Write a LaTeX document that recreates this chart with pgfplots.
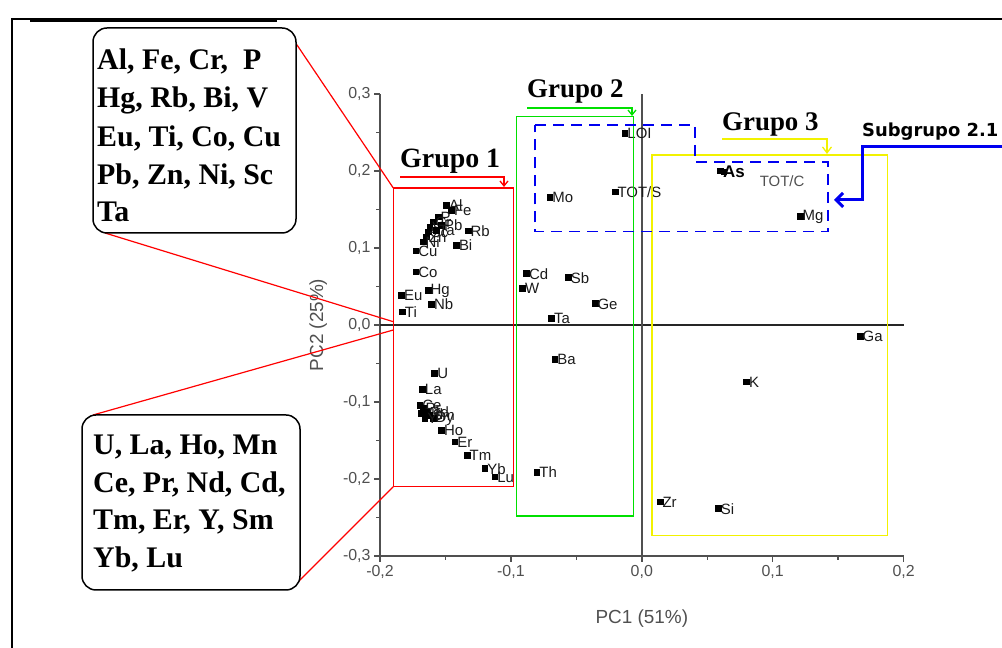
\documentclass[border=0pt]{standalone}
\usepackage{pgfplots}
\usepackage{pgfplotstable}
\pgfplotsset{compat=1.18}
\usepackage{fontspec}
\setmainfont{Liberation Sans}
\newfontfamily\tnr{Liberation Serif}
\newfontfamily\dvs{DejaVu Sans}
\usetikzlibrary{arrows.meta}
\definecolor{axgray}{HTML}{505050}
\definecolor{lblc}{HTML}{1A1A1A}
\definecolor{grnc}{HTML}{00E000}
\definecolor{ylwc}{HTML}{F2F200}
\definecolor{bluc}{HTML}{0000F0}
\definecolor{redc}{HTML}{FF0000}

\pgfplotstableread{
x y lab
-0.1493 0.1558 Al
-0.1455 0.1494 Fe
-0.1557 0.1407 P
-0.1596 0.1342 Cr
-0.1621 0.1277 V
-0.1634 0.1212 Sc
-0.1646 0.1147 Zn
-0.1672 0.1082 Ni
-0.1531 0.1299 Pb
-0.1570 0.1234 Ta
-0.1328 0.1225 Rb
-0.1417 0.1039 Bi
-0.1728 0.0965 Cu
-0.1728 0.0692 Co
-0.1837 0.0390 Eu
-0.1634 0.0455 Hg
-0.1608 0.0273 Nb
-0.1830 0.0173 Ti
-0.1583 -0.0627 U
-0.1677 -0.0835 La
-0.1697 -0.1039 Ce
-0.1672 -0.1082 Pr
-0.1684 -0.1147 Nd
-0.1646 -0.1126 Gd
-0.1621 -0.1169 Sm
-0.1596 -0.1212 Dy
-0.1659 -0.1212 Y
-0.1531 -0.1364 Ho
-0.1430 -0.1516 Er
-0.1336 -0.1688 Tm
-0.1200 -0.1861 Yb
-0.1124 -0.1970 Lu
-0.0882 0.0671 Cd
-0.0912 0.0476 W
-0.0563 0.0619 Sb
-0.0359 0.0281 Ge
-0.0690 0.0087 Ta
-0.0665 -0.0446 Ba
-0.0803 -0.1909 Th
-0.0703 0.1658 Mo
-0.0206 0.1732 TOT/S
-0.0130 0.2489 LOI
0.1208 0.1416 Mg
0.1667 -0.0143 Ga
0.0800 -0.0736 K
0.0138 -0.2295 Zr
0.0583 -0.2381 Si
}\pts

\begin{document}
\begin{tikzpicture}
\useasboundingbox (0bp,0bp) rectangle (1002bp,648bp);
\begin{axis}[
  at={(380bp,92bp)}, anchor=south west,
  scale only axis, width=523.6bp, height=462bp,
  xmin=-0.2, xmax=0.2, ymin=-0.3, ymax=0.3,
  axis x line*=bottom, axis y line*=left,
  clip=false,
  xtick={-0.2,-0.1,0,0.1,0.2},
  ytick={-0.3,-0.2,-0.1,0,0.1,0.2,0.3},
  minor x tick num=1, minor y tick num=1,
  tick align=outside,
  major tick length=6bp, minor tick length=4bp,
  tick style={axgray, line width=1.4bp},
  axis line style={axgray, line width=2bp},
  ticklabel style={font=\fontsize{16}{16}\selectfont, text=axgray},
  /pgf/number format/.cd, use comma, fixed, fixed zerofill, precision=1, assume math mode=true,
  /pgfplots/.cd,
  xlabel={PC1 (51\%)}, ylabel={PC2 (25\%)},
  xlabel style={font=\fontsize{19}{19}\selectfont, text=axgray, at={(axis description cs:0.5,-0.136)}, anchor=center},
  ylabel style={font=\fontsize{19}{19}\selectfont, text=axgray, at={(axis description cs:-0.118,0.5)}, anchor=center},
]
\draw[black!85, line width=1.8bp] (axis cs:-0.2,0) -- (axis cs:0.2,0);
\draw[axgray, line width=1.8bp] (axis cs:0,-0.3) -- (axis cs:0,0.3);
\addplot[only marks, mark=square*, mark size=2.9bp, black,
  nodes near coords, point meta=explicit symbolic,
  every node near coord/.append style={anchor=west, xshift=2.5bp, yshift=-0.5bp, inner sep=0pt, font=\fontsize{15}{15}\selectfont, text=lblc}]
  table[x=x, y=y, meta=lab] {\pts};
\addplot[only marks, mark=square*, mark size=2.9bp, black,
  nodes near coords={As},
  every node near coord/.append style={anchor=west, xshift=3bp, yshift=-1bp, inner sep=0pt, font=\bfseries\fontsize{17}{17}\selectfont, text=black}]
  coordinates {(0.0596,0.2004)};
\addplot[only marks, mark=square*, mark size=2.9bp, black,
  nodes near coords={TOT/C},
  every node near coord/.append style={anchor=west, xshift=36bp, yshift=-9bp, inner sep=0pt, font=\fontsize{15}{15}\selectfont, text=axgray}]
  coordinates {(0.0625,0.1990)};
\end{axis}
\begin{scope}[x=1bp, y=-1bp, shift={(0bp,648bp)}]
  % outer frame
  \draw[black, line width=2.5bp] (12,648) -- (12,19) -- (1002,19);
  \draw[black, line width=4bp] (30,20) -- (277,20);
  % group rectangles
  \draw[redc, line width=1.5bp] (393.3,188) rectangle (513.3,486.7);
  \draw[grnc, line width=1.5bp] (516.7,116.7) rectangle (633.3,516);
  \draw[ylwc, line width=1.8bp] (651.7,155) rectangle (887.5,535.5);
  \draw[bluc, line width=1.6bp, dash pattern=on 11bp off 7bp] (535,125) -- (695,125) -- (695,162) -- (828,162) -- (828,231.7) -- (535,231.7) -- cycle;
  % group labels
  \node[anchor=base west, inner sep=0, font=\tnr\bfseries\fontsize{28}{28}\selectfont] at (400,168) {Grupo 1};
  \draw[redc, line width=1.3bp, -{Straight Barb[length=5bp,width=8bp]}] (400,177) -- (504,177) -- (504,187);
  \node[anchor=base west, inner sep=0, font=\tnr\bfseries\fontsize{27}{27}\selectfont] at (527,98) {Grupo 2};
  \draw[grnc, line width=1.3bp, -{Straight Barb[length=5bp,width=8bp]}] (527,108) -- (632,108) -- (632,116);
  \node[anchor=base west, inner sep=0, font=\tnr\bfseries\fontsize{27}{27}\selectfont] at (722,131) {Grupo 3};
  \draw[ylwc, line width=1.3bp, -{Straight Barb[length=6bp,width=9bp]}] (722,139) -- (827,139) -- (827,154);
  % subgroup
  \node[anchor=base west, inner sep=0, font=\dvs\bfseries\fontsize{18}{18}\selectfont] at (862,137) {Subgrupo 2.1};
  \draw[bluc, line width=3bp, -{Straight Barb[length=7bp,width=14bp]}] (1005,147) -- (862,147) -- (862,200) -- (834,200);
  % callout boxes
  \draw[redc, line width=1.2bp] (295,42) -- (393.3,188);
  \draw[redc, line width=1.2bp] (105,233) -- (393.3,321.7);
  \draw[redc, line width=1.2bp] (93,415) -- (393.3,330);
  \draw[redc, line width=1.2bp] (298,582) -- (393.3,486.7);
  \draw[black, line width=1.5bp, rounded corners=14bp, fill=white] (93,28) rectangle (296,233);
  \draw[black, line width=1.5bp, rounded corners=14bp, fill=white] (82,415) rectangle (300,590);
  \begin{scope}[every node/.style={anchor=base west, inner sep=0, font=\tnr\bfseries\fontsize{30}{30}\selectfont}]
    \node at (97,70) {Al, Fe, Cr,\ \ P};
    \node at (97,108) {Hg, Rb, Bi, V};
    \node at (97,147) {Eu, Ti, Co, Cu};
    \node at (97,185) {Pb, Zn, Ni, Sc};
    \node at (97,222) {Ta};
    \node at (93,455) {U, La, Ho, Mn};
    \node at (93,493) {Ce, Pr, Nd, Cd,};
    \node at (93,530) {Tm, Er, Y, Sm};
    \node at (93,568) {Yb, Lu};
  \end{scope}
\end{scope}
\end{tikzpicture}
\end{document}
